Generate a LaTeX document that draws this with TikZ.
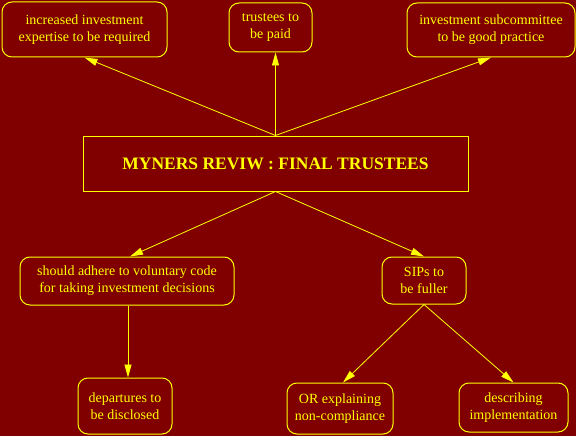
\documentclass[tikz,border=0pt]{standalone}
\usepackage{fontspec}
\setmainfont{Liberation Serif}
\usetikzlibrary{arrows.meta,calc}
\definecolor{bg}{HTML}{800000}
\definecolor{fg}{HTML}{FFFF00}
\begin{document}
\begin{tikzpicture}[x=1pt,y=-1pt,
  rbox/.style={draw=fg, line width=1pt, rounded corners=10pt, text=fg, align=center,
    inner sep=0pt, font=\fontsize{14}{17}\selectfont},
  tbox/.style={draw=fg, line width=1pt, text=fg, align=center, inner sep=0pt,
    font=\bfseries\fontsize{17.5}{20}\selectfont},
  arr/.style={draw=fg, line width=0.8pt, -{Triangle[length=13pt,width=7pt]}}]
\fill[bg] (0,0) rectangle (576,436);
\useasboundingbox (0,0) rectangle (576,436);
\node[rbox, minimum width=165pt, minimum height=55pt] (b1) at (84.5,29.5) {increased investment\\expertise to be required};
\node[rbox, minimum width=83pt, minimum height=49pt] (b2) at (270.5,27.5) {trustees to\\be paid};
\node[rbox, minimum width=168pt, minimum height=54pt] (b3) at (491,30) {investment subcommittee\\to be good practice};
\node[tbox, minimum width=385pt, minimum height=55pt] (m) at (275.5,163.5) {MYNERS REVIW : FINAL TRUSTEES};
\node[rbox, minimum width=214pt, minimum height=48pt] (adh) at (127,281) {should adhere to voluntary code\\for taking investment decisions};
\node[rbox, minimum width=84pt, minimum height=47pt] (sip) at (424,280.5) {SIPs to\\be fuller};
\node[rbox, minimum width=94pt, minimum height=56pt] (dep) at (125,406) {departures to\\be disclosed};
\node[rbox, minimum width=106pt, minimum height=51pt] (orx) at (340,408.5) {OR explaining\\non-compliance};
\node[rbox, minimum width=109pt, minimum height=49pt] (des) at (513.5,407.5) {describing\\implementation};
\draw[arr] (m.north) -- (b1.south);
\draw[arr] (m.north) -- (b2.south -| m.north);
\draw[arr] (m.north) -- (b3.south);
\draw[arr] (m.south) -- ($(adh.north)+(3,0)$);
\draw[arr] (m.south) -- (sip.north);
\draw[arr] ($(adh.south)+(1,0)$) -- ($(dep.north)+(3,0)$);
\draw[arr] (sip.south) -- ($(orx.north)+(3,0)$);
\draw[arr] (sip.south) -- (des.north);
\end{tikzpicture}
\end{document}
